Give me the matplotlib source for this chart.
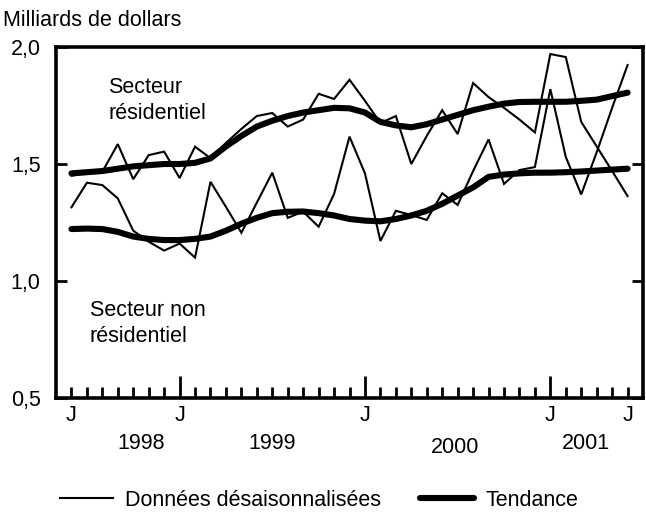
import numpy as np
import matplotlib
matplotlib.use('Agg')
import matplotlib.pyplot as plt

plt.rcParams['font.family'] = ['Liberation Sans', 'DejaVu Sans']

# monthly data, June 1998 .. June 2001 (index 0 = June 1998)
res_raw = [1.45, 1.46, 1.467, 1.585, 1.435, 1.538, 1.553, 1.44, 1.574, 1.525,
           1.59, 1.65, 1.705, 1.718, 1.66, 1.69, 1.80, 1.778, 1.86, 1.77,
           1.675, 1.705, 1.50, 1.62, 1.73, 1.628, 1.846, 1.786, 1.74, 1.69,
           1.635, 1.97, 1.957, 1.68, 1.575, 1.47, 1.363]
res_trend = [1.46, 1.465, 1.47, 1.48, 1.49, 1.495, 1.50, 1.50, 1.505, 1.524,
             1.575, 1.62, 1.66, 1.685, 1.705, 1.72, 1.73, 1.74, 1.738, 1.72,
             1.68, 1.665, 1.657, 1.67, 1.69, 1.71, 1.73, 1.745, 1.758, 1.765,
             1.766, 1.766, 1.766, 1.77, 1.775, 1.79, 1.805]
nonres_raw = [1.315, 1.42, 1.41, 1.353, 1.215, 1.168, 1.13, 1.16, 1.10, 1.424,
              1.317, 1.206, 1.335, 1.463, 1.27, 1.296, 1.232, 1.372, 1.617, 1.46,
              1.171, 1.30, 1.282, 1.261, 1.375, 1.325, 1.47, 1.605, 1.415, 1.474,
              1.487, 1.82, 1.53, 1.37, 1.55, 1.74, 1.923]
nonres_trend = [1.222, 1.224, 1.222, 1.21, 1.19, 1.18, 1.175, 1.175, 1.18, 1.19,
                1.215, 1.245, 1.27, 1.29, 1.296, 1.297, 1.29, 1.28, 1.265, 1.258,
                1.255, 1.265, 1.28, 1.30, 1.33, 1.365, 1.40, 1.445, 1.455, 1.46,
                1.463, 1.463, 1.465, 1.468, 1.472, 1.476, 1.48]

months = np.arange(len(res_raw))
j_pos = [0, 7, 19, 31, 36]
jan_pos = [7, 19, 31]
years = ['1998', '1999', '2000', '2001']
year_pos = [4.5, 13, 24.8, 33.3]
year_y = [-0.13, -0.13, -0.14, -0.13]

FS = 15.5

fig = plt.figure(figsize=(6.46, 5.2), dpi=100)
ax = fig.add_axes([0.0867, 0.2346, 0.9087, 0.675])

ax.plot(months, res_raw, color='black', lw=1.5, solid_joinstyle='miter')
ax.plot(months, nonres_raw, color='black', lw=1.5, solid_joinstyle='miter',
        label='Données désaisonnalisées')
ax.plot(months, res_trend, color='black', lw=4.4, solid_capstyle='round',
        solid_joinstyle='round', label='Tendance')
ax.plot(months, nonres_trend, color='black', lw=4.4, solid_capstyle='round',
        solid_joinstyle='round')

ax.set_xlim(-1, 37)
ax.set_ylim(0.5, 2.0)

for s in ax.spines.values():
    s.set_linewidth(2.6)

ax.set_yticks([0.5, 1.0, 1.5, 2.0])
ax.set_yticklabels(['0,5', '1,0', '1,5', '2,0'])
ax.tick_params(axis='y', direction='in', length=8, width=2, labelsize=FS,
               pad=11, left=True, right=True)

ax.set_xticks(jan_pos)
ax.set_xticks(months, minor=True)
ax.set_xticklabels([])
ax.tick_params(axis='x', which='major', direction='in', length=16, width=2)
ax.tick_params(axis='x', which='minor', direction='in', length=8, width=2)

xt = ax.get_xaxis_transform()
for p in j_pos:
    ax.text(p, -0.05, 'J', transform=xt, ha='center', va='center', fontsize=FS)
for yr, p, yy in zip(years, year_pos, year_y):
    ax.text(p, yy, yr, transform=xt, ha='center', va='center', fontsize=FS)

ax.text(2.4, 1.87, 'Secteur\nrésidentiel', ha='left', va='top', fontsize=FS,
        linespacing=1.3)
ax.text(1.2, 0.92, 'Secteur non\nrésidentiel', ha='left', va='top', fontsize=FS,
        linespacing=1.3)

fig.text(0.005, 0.96, 'Milliards de dollars', ha='left', va='center', fontsize=FS)

fig.legend(loc='center', bbox_to_anchor=(0.494, 0.038), ncol=2, frameon=False,
           fontsize=FS, handlelength=2.5, handletextpad=0.55, columnspacing=1.8)

fig.savefig('out.png', dpi=100)
